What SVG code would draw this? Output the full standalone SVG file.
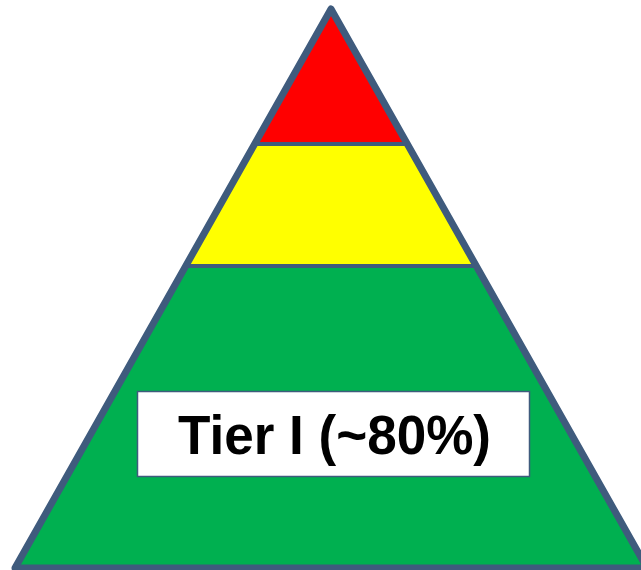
<svg xmlns="http://www.w3.org/2000/svg" width="641" height="570" viewBox="0 0 641 570">
  <style>
    .edge { fill: none; stroke: #3F5B7D; stroke-linejoin: round; }
    .label { font-family: "Liberation Sans", Arial, sans-serif; font-weight: bold; fill: #000000; }
  </style>
  <rect width="641" height="570" fill="#FFFFFF"/>
  <g id="tier1">
    <polygon points="185.7,266 476.3,266 647,568 15,568" fill="#00B050"/>
  </g>
  <g id="tier2">
    <polygon points="254.7,144 407.3,144 476.3,266 185.7,266" fill="#FFFF00"/>
  </g>
  <g id="tier3">
    <polygon points="331,9 407.3,144 254.7,144" fill="#FF0000"/>
  </g>
  <g id="outline">
    <line class="edge" x1="256" y1="144" x2="406" y2="144" stroke-width="4"/>
    <line class="edge" x1="187" y1="266" x2="475" y2="266" stroke-width="4"/>
    <polygon class="edge" points="331,9 647,568 15,568" stroke-width="7"/>
  </g>
  <g id="label">
    <rect x="137.5" y="391.5" width="392" height="85" fill="#FFFFFF" stroke="#3F5B7D" stroke-width="1.5"/>
    <text class="label" x="334.5" y="454" font-size="55" text-anchor="middle" textLength="313" lengthAdjust="spacingAndGlyphs">Tier I (~80%)</text>
  </g>
</svg>
